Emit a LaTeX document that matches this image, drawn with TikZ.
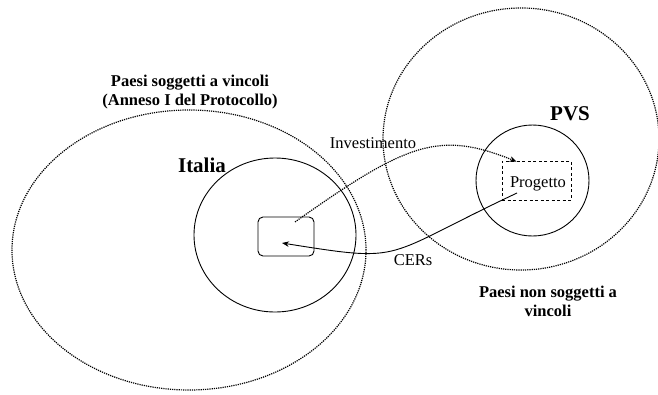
\documentclass[tikz,border=0pt]{standalone}
\usepackage{fontspec}
\setmainfont{Liberation Serif}
\newfontfamily\tmsfont{Liberation Serif}
\usetikzlibrary{shapes.geometric,arrows.meta,calc}
\begin{document}
\begin{tikzpicture}[x=1pt,y=-1pt,
  dotline/.style={line width=1.2pt,dash pattern=on 1.2pt off 1pt},
  solidline/.style={line width=0.9pt},
  region/.style={ellipse,draw,inner sep=0pt,outer sep=0pt},
  lbl/.style={font=\tmsfont\fontsize{16.5}{19}\selectfont,inner sep=0pt},
  blbl/.style={font=\tmsfont\fontsize{16.5}{19}\selectfont\bfseries,inner sep=0pt,align=center},
  big/.style={font=\tmsfont\fontsize{21}{24}\selectfont\bfseries,inner sep=0pt},
  tip/.style={-{Stealth[length=7pt,width=5.5pt]}}
]
\useasboundingbox (0,0) rectangle (658,394);
% regions
\node[region,dotline,minimum width=354pt,minimum height=280pt] (annex) at (189,250) {};
\node[region,dotline,minimum width=276pt,minimum height=262pt] (nonannex) at (521,139) {};
\node[region,solidline,minimum width=162pt,minimum height=154pt] (italia) at (275,235) {};
\node[region,solidline,minimum width=113pt,minimum height=111pt] (pvs) at (532.5,180.5) {};
% boxes
\node[draw,solidline,rounded corners=5pt,minimum width=56pt,minimum height=39pt,inner sep=0pt] (box) at (286,236.5) {};
\node[draw,line width=0.9pt,dash pattern=on 3pt off 2.5pt,minimum width=69pt,minimum height=39pt,inner sep=0pt] (prog) at (536.5,180.5) {};
\node[lbl,anchor=base] (progtxt) at (538,187) {Progetto};
% labels
\node[blbl] (annexlbl) at (190,92) {Paesi soggetti a vincoli\\(Anneso I del Protocollo)};
\node[big,anchor=base] (italialbl) at (202,172) {Italia};
\node[big,anchor=base] (pvslbl) at (570,120) {PVS};
\node[blbl,anchor=base] (nonlbl1) at (548,297) {Paesi non soggetti a};
\node[blbl,anchor=base] (nonlbl2) at (548,316) {vincoli};
\node[lbl,anchor=base] (invlbl) at (373,148) {Investimento};
\node[lbl,anchor=base] (cerlbl) at (413,265) {CERs};
% connector ends
\coordinate (invstart) at ($(box.center)+(9,-14.5)$);
\coordinate (invend) at ($(prog.north west)+(15,1)$);
\coordinate (cerstart) at ($(prog.center)+(-19.5,12.5)$);
\coordinate (cerend) at ($(box.center)+(-4,6.5)$);
% connectors
\draw[dotline,tip] (invstart) .. controls (409,141) and (440,131) .. (invend);
\draw[solidline,tip] (cerstart) .. controls (379,258) and (408,263) .. (cerend);
\end{tikzpicture}
\end{document}
